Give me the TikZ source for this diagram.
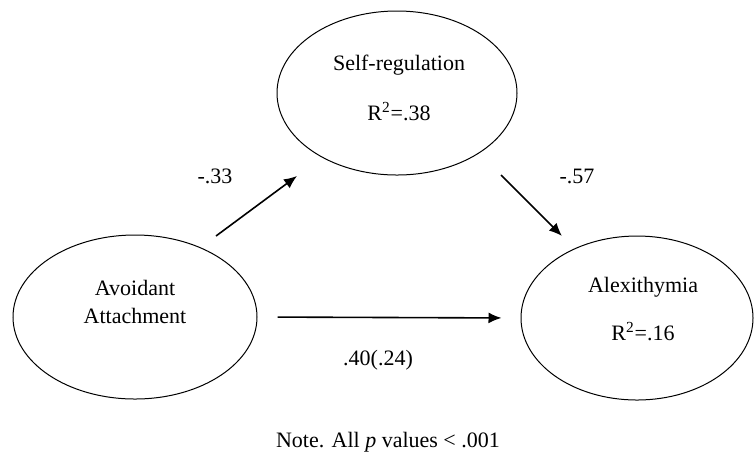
\documentclass[tikz,border=0pt]{standalone}
\usepackage{fontspec}
\setmainfont{Liberation Serif}
\usetikzlibrary{arrows,arrows.meta,shapes.geometric}

\begin{document}
\begin{tikzpicture}[x=0.5pt, y=-0.5pt,
            every node/.style={font=\fontsize{11}{13}\selectfont, align=center},
            var/.style={draw, ellipse, line width=0.5pt, inner sep=0pt, minimum height=82pt},
            effect/.style={draw, line width=0.8pt, -{Latex[length=6.5pt,width=5.5pt]}}]
        \useasboundingbox (0,0) rectangle (754,452);
        % latent variables
        \node[var, minimum width=120pt] (selfreg) at (397,93) {};
        \node[var, minimum width=122pt] (avoid) at (135,317) {};
        \node[var, minimum width=116pt] (alex) at (637,318) {};
        \node (selfregtxt) at (399,88) {Self-regulation\\[12pt]R\textsuperscript{2}=.38};
        \node (avoidtxt) at (135,302) {Avoidant\\[1pt]Attachment};
        \node (alextxt) at (643,309) {Alexithymia\\[11pt]R\textsuperscript{2}=.16};
        % paths
        \coordinate (a1) at (216,236);
        \coordinate (a2) at (297,176);
        \coordinate (b1) at (501,175);
        \coordinate (b2) at (562,236);
        \draw[effect] (a1) -- (a2);
        \draw[effect] (b1) -- (b2);
        \draw[effect, shorten <=20pt*0.5, shorten >=19pt*0.5] (avoid.east) -- (alex.west);
        \node (ca) at (215,176) {-.33};
        \node (cb) at (577,176) {-.57};
        \node (cc) at (378,360) {.40(.24)};
        \node (note) at (388,442) {Note. All \textit{p} values < .001};
\end{tikzpicture}
\end{document}
